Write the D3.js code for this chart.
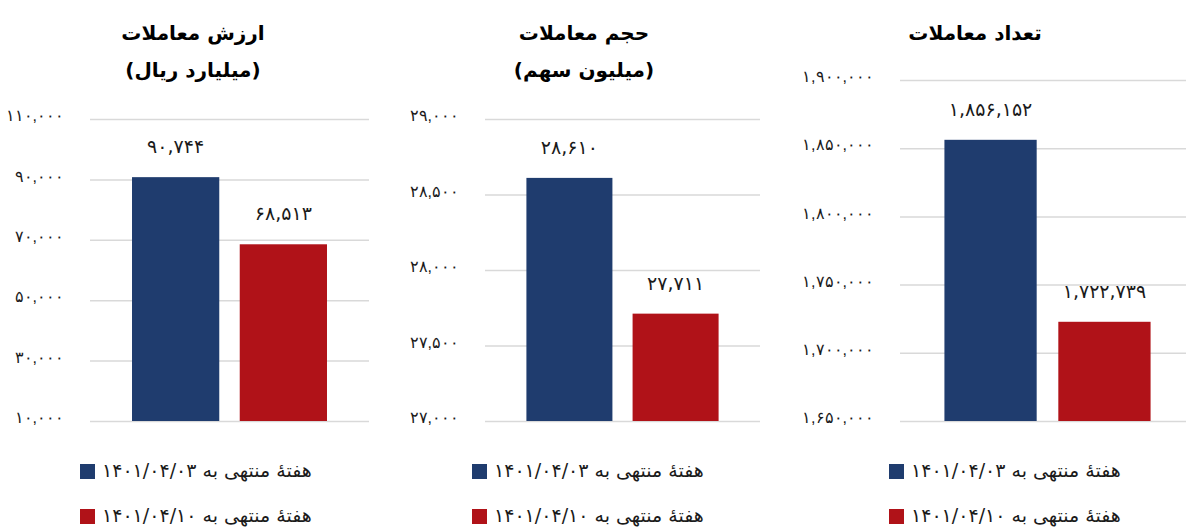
<!DOCTYPE html>
<html><head><meta charset="utf-8">
<script src="https://cdn.jsdelivr.net/npm/d3@7"></script>
<style>
html,body{margin:0;padding:0;background:#fff;}
svg{display:block;font-family:"DejaVu Sans",sans-serif;}
</style></head><body>
<svg id="c" width="1186" height="527"></svg>
<script>
// ---- data ----
const seriesNames = ["هفتهٔ منتهی به ۱۴۰۱/۰۴/۰۳", "هفتهٔ منتهی به ۱۴۰۱/۰۴/۱۰"];
const titles1 = ["ارزش معاملات", "حجم معاملات", "تعداد معاملات"];
const titles2 = ["(میلیارد ریال)", "(میلیون سهم)", ""];
const valueWeek1 = [90744, 28610, 1856152];
const valueWeek2 = [68513, 27711, 1722739];
const ticksValue = [10000, 30000, 50000, 70000, 90000, 110000];
const ticksVolume = [27000, 27500, 28000, 28500, 29000];
const ticksCount = [1650000, 1700000, 1750000, 1800000, 1850000, 1900000];
const tickSets = [ticksValue, ticksVolume, ticksCount];

// ---- layout ----
const colors = ["#1f3c6e", "#b01218"];
const panels = [
  {x0: 90, x1: 369, yTop: 119, yBot: 421, titleX: 193, legendX: 80},
  {x0: 485, x1: 760, yTop: 119, yBot: 421, titleX: 584, legendX: 472},
  {x0: 900, x1: 1195, yTop: 80, yBot: 421, titleX: 975, legendX: 889}
];
const fa = s => String(s).replace(/[0-9]/g, d => "۰۱۲۳۴۵۶۷۸۹"[d]);
const fmt = v => fa(d3.format(",")(v));

const svg = d3.select("#c");

panels.forEach((p, i) => {
  const g = svg.append("g");
  const ticks = tickSets[i];
  const y = d3.scaleLinear().domain([d3.min(ticks), d3.max(ticks)]).range([p.yBot, p.yTop]);
  const x = d3.scaleBand().domain([0, 1]).range([p.x0, p.x1]).paddingInner(0.19).paddingOuter(0.39);

  const axis = d3.axisLeft(y).tickValues(ticks).tickSize(-(p.x1 - p.x0)).tickFormat(fmt).tickPadding(26);
  const ag = g.append("g").attr("transform", `translate(${p.x0},0)`).call(axis);
  ag.select(".domain").remove();
  ag.selectAll(".tick line").attr("stroke", "#d9d9d9").attr("stroke-width", 1.5);
  ag.selectAll(".tick text").attr("fill", "#1a1a1a").attr("font-size", 16).attr("dy", "0.1em");

  const vals = [valueWeek1[i], valueWeek2[i]];
  g.selectAll("rect.bar").data(vals).enter().append("rect")
    .attr("class", "bar")
    .attr("x", (d, j) => x(j)).attr("width", x.bandwidth())
    .attr("y", d => y(d)).attr("height", d => p.yBot - y(d))
    .attr("fill", (d, j) => colors[j]);
  g.selectAll("text.val").data(vals).enter().append("text")
    .attr("class", "val")
    .attr("x", (d, j) => x(j) + x.bandwidth() / 2)
    .attr("y", d => y(d) - 24)
    .attr("text-anchor", "middle").attr("font-size", 19).attr("fill", "#1a1a1a")
    .text(fmt);

  g.append("text").attr("x", p.titleX).attr("y", 40).attr("direction", "rtl")
    .attr("text-anchor", "middle").attr("font-size", 20).attr("font-weight", "bold").attr("fill", "#000")
    .text(titles1[i]);
  if (titles2[i]) {
    g.append("text").attr("x", p.titleX).attr("y", 77).attr("direction", "rtl")
      .attr("text-anchor", "middle").attr("font-size", 20).attr("font-weight", "bold").attr("fill", "#000")
      .text(titles2[i]);
  }

  const lg = g.append("g");
  seriesNames.forEach((name, j) => {
    const ly = 464 + j * 45;
    lg.append("rect").attr("x", p.legendX).attr("y", ly).attr("width", 15).attr("height", 15).attr("fill", colors[j]);
    lg.append("text").attr("x", p.legendX + 22).attr("y", ly + 13)
      .attr("font-size", 19).attr("fill", "#1a1a1a")
      .text(name);
  });
});
</script>
</body></html>
